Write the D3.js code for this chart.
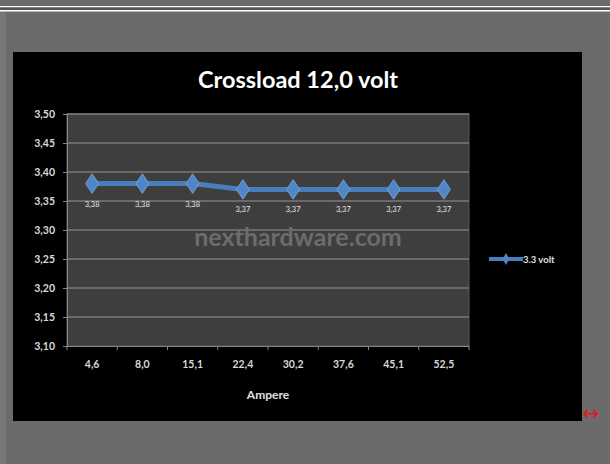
<!DOCTYPE html>
<html>
<head>
<meta charset="utf-8">
<script src="https://cdn.jsdelivr.net/npm/d3@7"></script>
<style>
  body { margin: 0; background: #6b6b6b; }
  svg { display: block; }
</style>
</head>
<body>
<script>
var categories = ["4,6", "8,0", "15,1", "22,4", "30,2", "37,6", "45,1", "52,5"];
var values = [3.38, 3.38, 3.38, 3.37, 3.37, 3.37, 3.37, 3.37];
var yTicks = [3.10, 3.15, 3.20, 3.25, 3.30, 3.35, 3.40, 3.45, 3.50];
var seriesName = "3.3 volt";

var width = 610, height = 464;
var plot = {left: 67, right: 469, top: 114, bottom: 346};
var comma = function(v) { return d3.format(".2f")(v).replace(".", ","); };

var svg = d3.select("body").append("svg")
    .attr("width", width)
    .attr("height", height);

// page decoration
svg.append("rect").attr("width", width).attr("height", height).attr("fill", "#6b6b6b");
svg.append("rect").attr("x", 0).attr("y", 11).attr("width", 6).attr("height", height - 11).attr("fill", "#777");
svg.append("rect").attr("x", 0).attr("y", 6).attr("width", width).attr("height", 1.5).attr("fill", "#fff");
svg.append("rect").attr("x", 0).attr("y", 7.5).attr("width", width).attr("height", 2.5).attr("fill", "#555");
svg.append("rect").attr("x", 0).attr("y", 10).attr("width", width).attr("height", 1.5).attr("fill", "#fff");

// chart background
svg.append("rect").attr("x", 13).attr("y", 52).attr("width", 569).attr("height", 369).attr("fill", "#000");

var x = d3.scaleBand()
    .domain(categories)
    .range([plot.left, plot.right]);

var y = d3.scaleLinear()
    .domain([3.10, 3.50])
    .range([plot.bottom, plot.top]);

svg.append("rect")
    .attr("x", plot.left).attr("y", plot.top)
    .attr("width", plot.right - plot.left).attr("height", plot.bottom - plot.top)
    .attr("fill", "#3e3e3e")
    .attr("stroke", "#5a5a5a");

// gridlines
svg.append("g")
  .selectAll("line")
  .data(yTicks.slice(1))
  .enter().append("line")
    .attr("x1", plot.left).attr("x2", plot.right)
    .attr("y1", function(d) { return y(d); })
    .attr("y2", function(d) { return y(d); })
    .attr("stroke", "#7a7a7a")
    .attr("stroke-width", 1.5);

// watermark
svg.append("text")
    .attr("x", 298).attr("y", 246)
    .attr("text-anchor", "middle")
    .attr("font-family", "Lato, sans-serif")
    .attr("font-weight", "bold")
    .attr("font-size", 25)
    .attr("fill", "#6c6c6c")
    .text("nexthardware.com");

// y axis
var yAxis = svg.append("g")
    .attr("transform", "translate(" + plot.left + ",0)")
    .call(d3.axisLeft(y).tickValues(yTicks).tickFormat(comma).tickSize(4).tickPadding(8));
yAxis.select(".domain").attr("stroke", "#888");
yAxis.selectAll(".tick line").attr("stroke", "#888");
yAxis.selectAll("text")
    .attr("fill", "#d8d8d8")
    .attr("font-family", "Lato, sans-serif")
    .attr("font-weight", "bold")
    .attr("font-size", 10.5);

// x axis
var xAxis = svg.append("g")
    .attr("transform", "translate(0," + plot.bottom + ")")
    .call(d3.axisBottom(x).tickSize(0).tickPadding(15));
xAxis.select(".domain").attr("stroke", "#888");
xAxis.selectAll("text")
    .attr("fill", "#d8d8d8")
    .attr("font-family", "Lato, sans-serif")
    .attr("font-weight", "bold")
    .attr("font-size", 10.5);
xAxis.append("g")
  .selectAll("line")
  .data(d3.range(categories.length + 1))
  .enter().append("line")
    .attr("x1", function(i) { return plot.left + i * x.step(); })
    .attr("x2", function(i) { return plot.left + i * x.step(); })
    .attr("y1", 0).attr("y2", 4)
    .attr("stroke", "#888");

svg.append("text")
    .attr("x", 268).attr("y", 399)
    .attr("text-anchor", "middle")
    .attr("font-family", "Lato, sans-serif")
    .attr("font-weight", "bold")
    .attr("font-size", 12)
    .attr("fill", "#e0e0e0")
    .text("Ampere");

// title
svg.append("text")
    .attr("x", 298).attr("y", 88)
    .attr("text-anchor", "middle")
    .attr("font-family", "Lato, sans-serif")
    .attr("font-weight", "bold")
    .attr("font-size", 23.5)
    .attr("fill", "#fff")
    .text("Crossload 12,0 volt");

// series
var cx = function(d, i) { return x(categories[i]) + x.bandwidth() / 2; };
var line = d3.line()
    .x(function(d, i) { return cx(d, i); })
    .y(function(d) { return y(d); });

svg.append("path")
    .datum(values)
    .attr("d", line)
    .attr("fill", "none")
    .attr("stroke", "#4a7ebb")
    .attr("stroke-width", 5);

var diamond = d3.symbol().type(d3.symbolDiamond).size(110);
svg.append("g")
  .selectAll("path")
  .data(values)
  .enter().append("path")
    .attr("d", diamond)
    .attr("transform", function(d, i) { return "translate(" + cx(d, i) + "," + y(d) + ") scale(1.15,1)"; })
    .attr("fill", "#4f86c6")
    .attr("stroke", "#7aa7dc")
    .attr("stroke-width", 0.8);

svg.append("g")
  .selectAll("text")
  .data(values)
  .enter().append("text")
    .attr("x", function(d, i) { return cx(d, i); })
    .attr("y", function(d) { return y(d) + 23; })
    .attr("text-anchor", "middle")
    .attr("font-family", "Lato, sans-serif")
    .attr("font-size", 7.5)
    .attr("fill", "#e8e8e8")
    .text(function(d) { return comma(d); });

// legend
var lg = svg.append("g").attr("transform", "translate(489,259)");
lg.append("line").attr("x1", 0).attr("x2", 34).attr("y1", 0).attr("y2", 0)
    .attr("stroke", "#4a7ebb").attr("stroke-width", 4);
lg.append("path").attr("d", d3.symbol().type(d3.symbolDiamond).size(40))
    .attr("transform", "translate(17,0)")
    .attr("fill", "#4f86c6");
lg.append("text")
    .attr("x", 34).attr("y", 3.5)
    .attr("font-family", "Lato, sans-serif")
    .attr("font-weight", "bold")
    .attr("font-size", 9.5)
    .attr("fill", "#e0e0e0")
    .text(seriesName);

// resize marker
svg.append("text")
    .attr("x", 591).attr("y", 420)
    .attr("text-anchor", "middle")
    .attr("font-family", "DejaVu Sans, sans-serif")
    .attr("font-size", 20)
    .attr("fill", "#e8161b")
    .text("\u2194");
</script>
</body>
</html>
